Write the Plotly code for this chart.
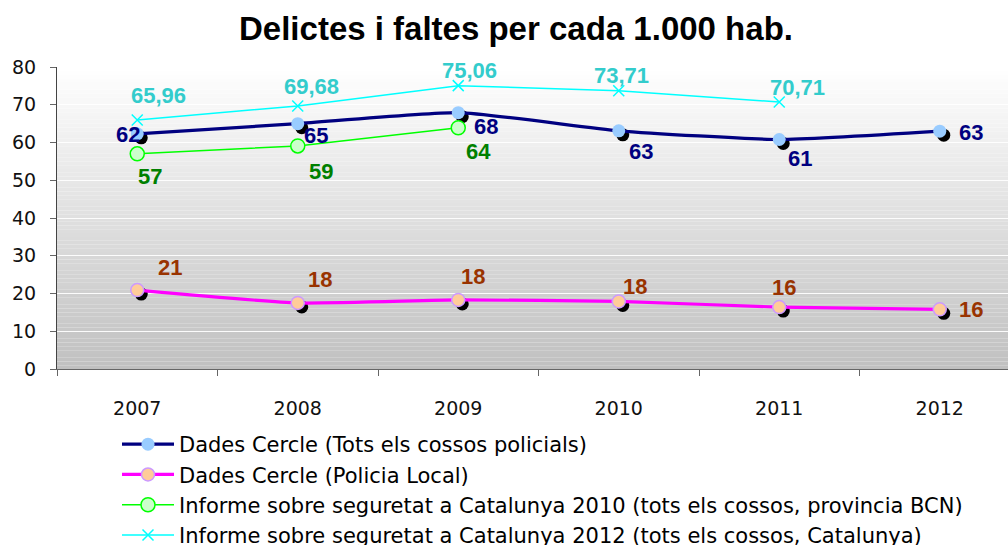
import plotly.graph_objects as go

# ---------------- data ----------------
years = ["2007", "2008", "2009", "2010", "2011", "2012"]
tots_vals = [62.3, 65.0, 67.9, 63.1, 60.8, 63.0]
tots_text = ["62", "65", "68", "63", "61", "63"]
local_vals = [20.9, 17.5, 18.3, 17.9, 16.4, 15.8]
local_text = ["21", "18", "18", "18", "16", "16"]
inf2010_vals = [57.0, 59.1, 63.9]
inf2010_text = ["57", "59", "64"]
inf2012_vals = [65.96, 69.68, 75.06, 73.71, 70.71]
inf2012_text = ["65,96", "69,68", "75,06", "73,71", "70,71"]

names = [
    "Dades Cercle (Tots els cossos policials)",
    "Dades Cercle (Policia Local)",
    "Informe sobre seguretat a Catalunya 2010 (tots els cossos, provincia BCN)",
    "Informe sobre seguretat a Catalunya 2012 (tots els cossos, Catalunya)",
]

# ---------------- geometry / style ----------------
W, H = 1008, 545
ML, MT, MB, MR = 57, 67, 176, 0
PX_PER_CAT = 160.5
YMAX = 80
x_range = [-0.5, -0.5 + (W - ML - MR) / PX_PER_CAT]
px_per_y = (H - MT - MB) / YMAX
SHADOW = 4
sdx = SHADOW / PX_PER_CAT
sdy = SHADOW / px_per_y

# label pixel offsets (dx right, dy down)
tots_off = [(-9, 1), (18, 12), (28, 14), (22, 21), (21, 19), (31, 1)]
local_off = [(33, -23), (22, -23), (15, -23), (16, -15), (5, -20), (31, 0)]
inf2010_off = [(13, 23), (23, 26), (20, 24)]
inf2012_off = [(21, -25), (14, -19), (11, -15), (3, -15), (18, -15)]

NAVY, MAGENTA, GREEN, CYAN = "#000080", "#ff00ff", "#00ff00", "#00ffff"
LBL_FONT = "Liberation Sans, Arial, sans-serif"
AX_FONT = "DejaVu Sans, Verdana, sans-serif"

idx = list(range(len(years)))

fig = go.Figure()

# invisible anchor trace for the main (decorated) axes
fig.add_trace(go.Scatter(x=idx, y=[None] * len(idx), mode="markers",
                         marker=dict(opacity=0), showlegend=False, hoverinfo="skip"))

# shadows (on shifted overlay axes)
for vals in (tots_vals, local_vals):
    fig.add_trace(go.Scatter(
        x=idx[:len(vals)], y=vals, mode="markers", xaxis="x2", yaxis="y2",
        marker=dict(color="black", size=13), showlegend=False, hoverinfo="skip"))

# real traces
fig.add_trace(go.Scatter(
    x=idx, y=tots_vals, name=names[0], mode="lines+markers", xaxis="x3", yaxis="y3",
    line=dict(color=NAVY, width=3.2, shape="spline", smoothing=0.5),
    marker=dict(color="#99ccff", size=13, line=dict(width=0)),
    legendgroup="a"))
fig.add_trace(go.Scatter(
    x=idx, y=local_vals, name=names[1], mode="lines+markers", xaxis="x3", yaxis="y3",
    line=dict(color=MAGENTA, width=3.2, shape="spline", smoothing=0.5),
    marker=dict(color="#ffcc99", size=13, line=dict(color="#cc99ff", width=1.5)),
    legendgroup="b"))
fig.add_trace(go.Scatter(
    x=idx[:len(inf2010_vals)], y=inf2010_vals, name=names[2], mode="lines+markers",
    xaxis="x3", yaxis="y3",
    line=dict(color=GREEN, width=1.5),
    marker=dict(color="#ccffcc", size=14, line=dict(color=GREEN, width=1.5)),
    legendgroup="c"))
fig.add_trace(go.Scatter(
    x=idx[:len(inf2012_vals)], y=inf2012_vals, name=names[3], mode="lines+markers",
    xaxis="x3", yaxis="y3",
    line=dict(color=CYAN, width=1.5),
    marker=dict(symbol="x-thin", size=11, color=CYAN, line=dict(color=CYAN, width=1.5)),
    legendgroup="d"))

# data labels
annotations = []
for vals, texts, offs, col in (
    (tots_vals, tots_text, tots_off, "#000080"),
    (local_vals, local_text, local_off, "#993300"),
    (inf2010_vals, inf2010_text, inf2010_off, "#008000"),
    (inf2012_vals, inf2012_text, inf2012_off, "#33cccc"),
):
    for i, (v, t) in enumerate(zip(vals, texts)):
        annotations.append(dict(
            x=idx[i], y=v, xref="x", yref="y", text="<b>%s</b>" % t, showarrow=False,
            xshift=offs[i][0], yshift=-offs[i][1],
            font=dict(family=LBL_FONT, size=22, color=col)))

# gradient background bands
shapes = []
N = 80
for i in range(N):
    t = (i + 0.5) / N
    g = int(round(192 + (255 - 192) * t))
    shapes.append(dict(type="rect", xref="x domain", yref="y domain",
                       x0=0, x1=1, y0=i / N, y1=(i + 1) / N,
                       fillcolor="rgb(%d,%d,%d)" % (g, g, g), line=dict(width=0),
                       layer="below"))

fig.update_layout(
    width=W, height=H,
    margin=dict(l=ML, r=MR, t=MT, b=MB, autoexpand=False),
    paper_bgcolor="white", plot_bgcolor="white",
    title=dict(text="<b>Delictes i faltes per cada 1.000 hab.</b>",
               x=516 / W, xanchor="center", xref="container",
               y=1 - 28 / H, yanchor="middle", yref="container",
               font=dict(family=LBL_FONT, size=33, color="black")),
    xaxis=dict(range=x_range, tickvals=idx, ticktext=years, ticks="",
               showgrid=False, zeroline=False, showline=True,
               linecolor="#666666", linewidth=1,
               minor=dict(tickvals=[i - 0.5 for i in range(len(years) + 1)],
                          ticks="outside", ticklen=6, tickcolor="#666666", showgrid=False),
               tickfont=dict(family=AX_FONT, size=19, color="#111111"),
               ticklabelstandoff=22),
    yaxis=dict(range=[0, YMAX], dtick=10, ticks="outside", ticklen=6, tickcolor="#666666",
               showgrid=True, gridcolor="rgba(255,255,255,0.9)", gridwidth=1,
               zeroline=False, showline=True, linecolor="#444444", linewidth=1,
               tickfont=dict(family=AX_FONT, size=19, color="#111111"),
               ticklabelstandoff=10),
    xaxis2=dict(range=[x_range[0] - sdx, x_range[1] - sdx], overlaying="x", visible=False),
    yaxis2=dict(range=[0 + sdy, YMAX + sdy], overlaying="y", visible=False),
    xaxis3=dict(range=x_range, overlaying="x", visible=False),
    yaxis3=dict(range=[0, YMAX], overlaying="y", visible=False),
    shapes=shapes,
    annotations=annotations,
    showlegend=True,
    legend=dict(x=117 / W, xref="container", xanchor="left",
                y=1 - 424 / H, yref="container", yanchor="top",
                font=dict(family=AX_FONT, size=21, color="black"),
                bgcolor="rgba(0,0,0,0)", tracegroupgap=4, itemwidth=52,
                traceorder="normal"),
)

fig.write_html("out.html", config={"displayModeBar": False},
               post_script="document.body.style.margin='0';document.body.style.overflow='hidden';")
